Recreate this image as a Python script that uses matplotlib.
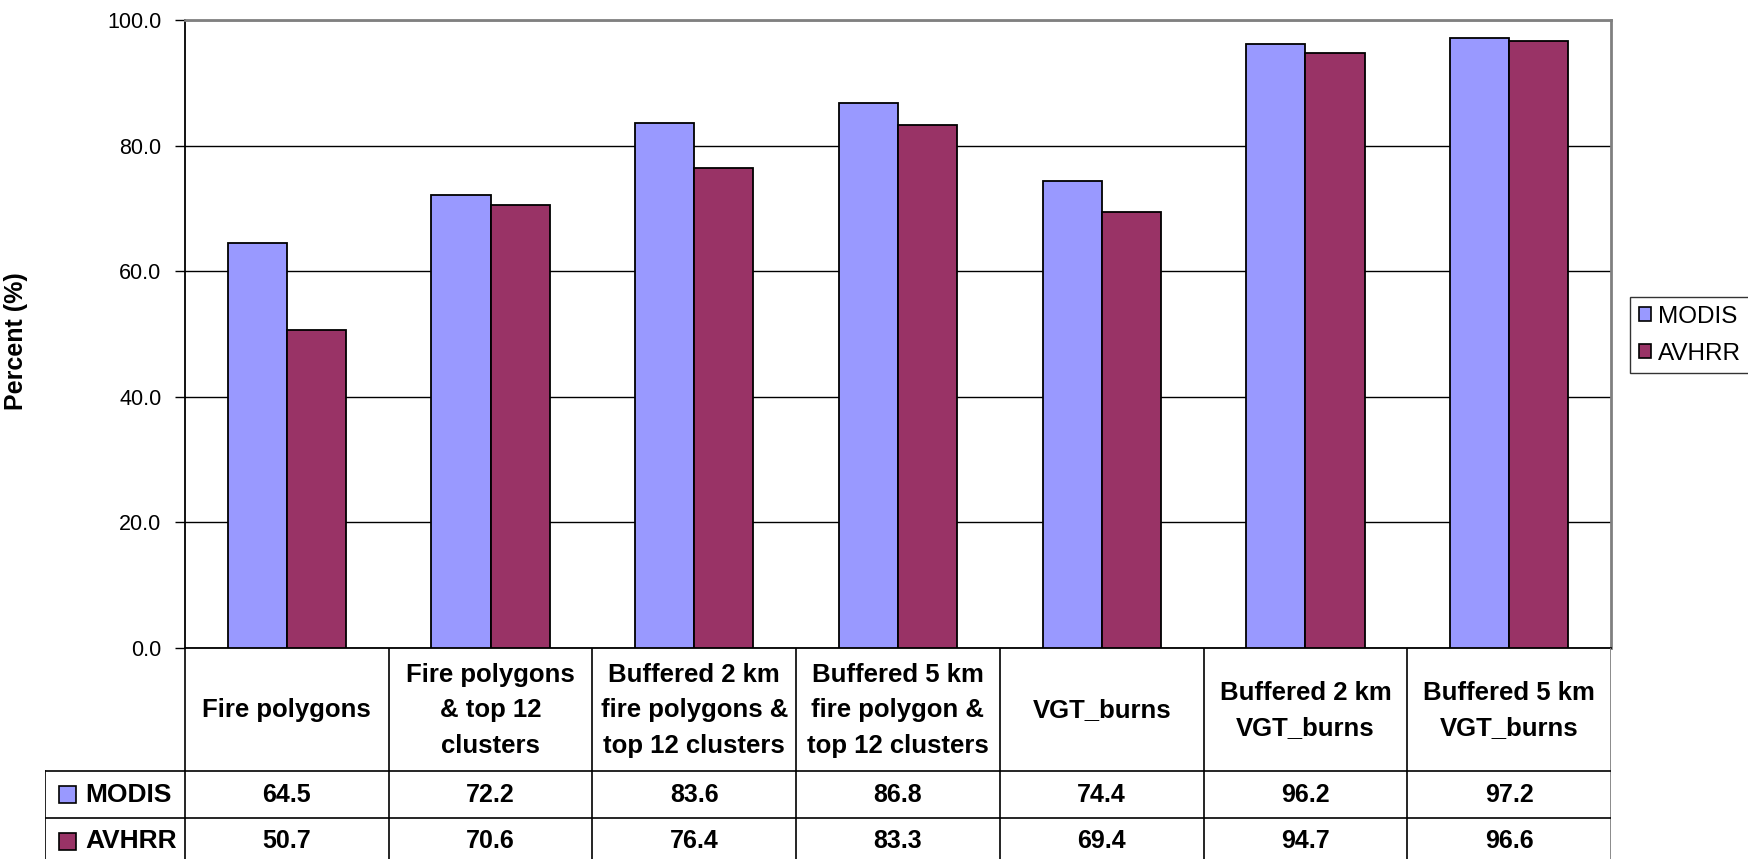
import numpy as np
import matplotlib
matplotlib.use("Agg")
from matplotlib import pyplot as plt
from matplotlib.patches import Patch, Rectangle

plt.rcParams['font.family'] = ['Liberation Sans', 'DejaVu Sans']

# burned-area agreement per reference layer, in percent
categories = [
    "Fire polygons",
    "Fire polygons\n& top 12\nclusters",
    "Buffered 2 km\nfire polygons &\ntop 12 clusters",
    "Buffered 5 km\nfire polygon &\ntop 12 clusters",
    "VGT_burns",
    "Buffered 2 km\nVGT_burns",
    "Buffered 5 km\nVGT_burns",
]
series_names = ["MODIS", "AVHRR"]
modis = [64.5, 72.2, 83.6, 86.8, 74.4, 96.2, 97.2]
avhrr = [50.7, 70.6, 76.4, 83.3, 69.4, 94.7, 96.6]
y_ticks = [0, 20, 40, 60, 80, 100]

COLORS = ["#9999FF", "#993366"]
FRAME = "#808080"

W, H = 1749, 859
fig = plt.figure(figsize=(W / 100, H / 100), dpi=100)

# plot area in pixels: x 185..1611, y 20..648
px_l, px_r, px_t, px_b = 185, 1611, 20, 648
ax = fig.add_axes([px_l / W, (H - px_b) / H, (px_r - px_l) / W, (px_b - px_t) / H])

x = np.arange(len(categories))
bw = 0.29
values = [modis, avhrr]
for i, vals in enumerate(values):
    ax.bar(x + (i - 0.5) * bw, vals, bw, color=COLORS[i], edgecolor="black",
           linewidth=1.3, label=series_names[i], zorder=3)

ax.set_xlim(-0.5, len(categories) - 0.5)
ax.set_ylim(0, 100)
ax.set_yticks(y_ticks)
ax.set_yticklabels(["%.1f" % t for t in y_ticks], fontsize=15.5)
ax.set_xticks([])
ax.tick_params(axis="y", length=7, width=1, color="black", pad=10)
ax.yaxis.grid(True, color="black", linewidth=1)
ax.set_axisbelow(True)
for side in ("top", "right"):
    ax.spines[side].set_color(FRAME)
    ax.spines[side].set_linewidth(2)
ax.spines["left"].set_linewidth(1.3)
ax.spines["bottom"].set_linewidth(1.3)

ax.set_ylabel("Percent (%)", fontsize=18, fontweight="bold")
ax.yaxis.set_label_coords(-0.11, 0.489)

# data table under the plot, laid out in pixel rows
col_px = (px_r - px_l) / len(categories)
lab_w = 140 / col_px
head_h, row_h = 123, 47
tab_bottom = head_h + 2 * row_h
tab = fig.add_axes([45 / W, (H - px_b - tab_bottom) / H, (px_r - 45) / W, tab_bottom / H])
tab.set_xlim(-0.5 - lab_w, len(categories) - 0.5)
tab.set_ylim(tab_bottom, 0)
tab.axis("off")

x0 = -0.5 - lab_w
xr = len(categories) - 0.5
lw = 1.2
# column separators and row rules
for k in range(len(categories)):
    tab.plot([k - 0.5, k - 0.5], [0, tab_bottom], color="black", lw=lw)
tab.plot([xr, xr], [0, tab_bottom], color=FRAME, lw=2)
tab.plot([x0, x0], [head_h, tab_bottom], color="black", lw=lw)
for yy in (head_h, head_h + row_h):
    tab.plot([x0, xr], [yy, yy], color="black", lw=lw)

for k, cat in enumerate(categories):
    tab.text(k, head_h / 2 + 1, cat, ha="center", va="center", fontsize=18.5,
             fontweight="bold", linespacing=1.6)

for i, vals in enumerate(values):
    yc = head_h + row_h * (i + 0.5)
    for k, v in enumerate(vals):
        tab.text(k, yc, "%.1f" % v, ha="center", va="center", fontsize=18,
                 fontweight="bold")
    tab.add_patch(Rectangle((x0 + 14 / col_px, yc - 8.5), 17 / col_px, 17,
                            facecolor=COLORS[i], edgecolor="black", lw=1.2))
    tab.text(x0 + 40 / col_px, yc, series_names[i], ha="left", va="center",
             fontsize=19, fontweight="bold")

handles = [Patch(facecolor=c, edgecolor="black", lw=1.2) for c in COLORS]
leg = ax.legend(handles, series_names, loc="upper left",
                bbox_to_anchor=(1630 / W, (H - 297) / H), bbox_transform=fig.transFigure,
                fontsize=17.5, frameon=True, fancybox=False, edgecolor="black",
                handlelength=0.5, handleheight=0.5, handletextpad=0.3,
                borderpad=0.35, labelspacing=0.62, borderaxespad=0)
leg.get_frame().set_linewidth(1)

fig.savefig("out.png", dpi=100)
